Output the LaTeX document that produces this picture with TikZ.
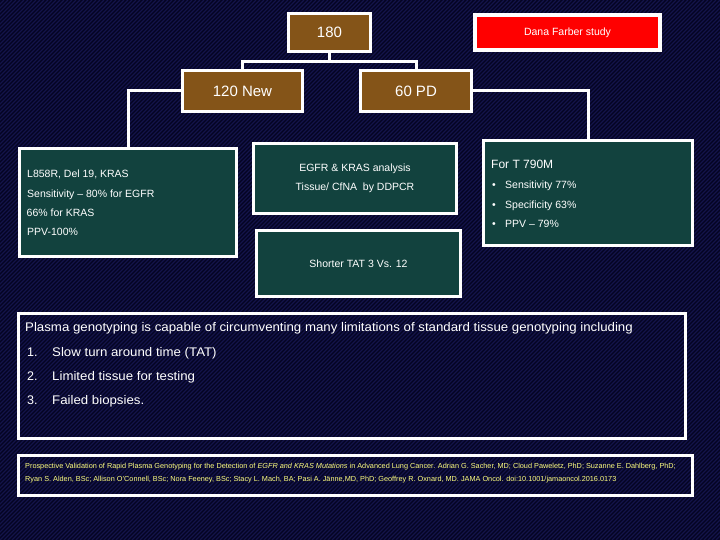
\documentclass[tikz,border=0pt]{standalone}
\usepackage{fontspec}
\setmainfont{Liberation Sans}
\definecolor{bgnavy}{RGB}{4,4,34}
\definecolor{stripecol}{RGB}{20,20,74}
\definecolor{brownbox}{RGB}{132,84,24}
\definecolor{tealbox}{RGB}{18,66,62}
\definecolor{citeyellow}{RGB}{255,255,128}
\newcommand{\widen}[1]{\scalebox{1.06}[1]{#1}}
\begin{document}
\begin{tikzpicture}[x=1pt,y=-1pt,
  box/.style={draw=white, line width=3.2pt, inner sep=0pt, text=white, align=center},
  brownb/.style={box, fill=brownbox, font=\fontsize{15}{18}\selectfont},
  tealb/.style={box, fill=tealbox, font=\fontsize{10.5}{19}\selectfont},
  openb/.style={box, fill=none},
  conn/.style={draw=white, line width=3pt},
  txt/.style={text=white, inner sep=0pt, anchor=base west, font=\fontsize{10.5}{12}\selectfont},
  bigtxt/.style={txt, font=\fontsize{12}{14}\selectfont},
  plasmatxt/.style={txt, font=\fontsize{12.5}{14}\selectfont},
  citetxt/.style={txt, text=citeyellow, font=\fontsize{7.3}{8}\selectfont}]
\useasboundingbox (0,0) rectangle (720,540);
% background
\fill[bgnavy] (0,0) rectangle (720,540);
\begin{scope}
  \clip (0,0) rectangle (720,540);
  \foreach \i in {0,4,...,1264} \draw[stripecol, line width=1.2pt] (\i,0) -- (\i-540,540);
\end{scope}
% boxes
\node[brownb, minimum width=82, minimum height=38] (n180) at (329.5,32.5) {180};
\node[box, fill=red, line width=4pt, minimum width=185, minimum height=35,
      font=\fontsize{10.5}{12}\selectfont] (dana) at (567.5,32.5) {Dana Farber study};
\node[brownb, minimum width=120, minimum height=41] (n120) at (242.5,91) {120 New};
\node[brownb, minimum width=111, minimum height=41] (n60) at (416,91) {60 PD};
\node[tealb, minimum width=217, minimum height=108] (leftb) at (128,202.5) {};
\node[tealb, minimum width=203, minimum height=70] (midtop) at (355,178.5)
  {EGFR \& KRAS analysis\\Tissue/ CfNA\ \ by DDPCR};
\node[tealb, minimum width=204, minimum height=66] (midbot) at (358.5,263.5) {Shorter TAT 3 Vs. 12};
\node[tealb, minimum width=209, minimum height=105] (rightb) at (588,193) {};
\node[openb, minimum width=667, minimum height=125] (plasma) at (352,376) {};
\node[openb, minimum width=674, minimum height=40] (cite) at (355.5,475.5) {};
% connectors
\draw[conn] (n180.south) -- ++(0,8) coordinate (split) -| (n120.north);
\draw[conn] (split) -| (n60.north);
\draw[conn] (n120.west) -| (leftb.north);
\draw[conn] (n60.east) -| (rightb.north);
% left box text
\node[txt] (l1) at (27,178) {L858R, Del 19, KRAS};
\node[txt] (l2) at (27,197) {Sensitivity -- 80\% for EGFR};
\node[txt] (l3) at (26.5,217) {66\% for KRAS};
\node[txt] (l4) at (27,236) {PPV-100\%};
% right box text
\node[bigtxt] (r0) at (491,169) {For T 790M};
\node[txt] (r1) at (492,189) {\makebox[13pt][l]{\textbullet}Sensitivity 77\%};
\node[txt] (r2) at (492,208) {\makebox[13pt][l]{\textbullet}Specificity 63\%};
\node[txt] (r3) at (492,227) {\makebox[13pt][l]{\textbullet}PPV -- 79\%};
% plasma text
\node[plasmatxt] (p0) at (25,331) {\widen{Plasma genotyping is capable of circumventing many limitations of standard tissue genotyping including}};
\node[plasmatxt] (p1) at (27,356) {\makebox[25pt][l]{1.}\widen{Slow turn around time (TAT)}};
\node[plasmatxt] (p2) at (27,380) {\makebox[25pt][l]{2.}\widen{Limited tissue for testing}};
\node[plasmatxt] (p3) at (27,404) {\makebox[25pt][l]{3.}\widen{Failed biopsies.}};
% citation
\node[citetxt] (c1) at (25,468.5) {Prospective Validation of Rapid Plasma Genotyping for the Detection of \textit{EGFR and KRAS Mutations} in Advanced Lung Cancer. Adrian G. Sacher, MD; Cloud Paweletz, PhD; Suzanne E. Dahlberg, PhD;};
\node[citetxt] (c2) at (25,481.5) {Ryan S. Alden, BSc; Allison O'Connell, BSc; Nora Feeney, BSc; Stacy L. Mach, BA; Pasi A. J\"anne,MD, PhD; Geoffrey R. Oxnard, MD. JAMA Oncol. doi:10.1001/jamaoncol.2016.0173};
\end{tikzpicture}
\end{document}
